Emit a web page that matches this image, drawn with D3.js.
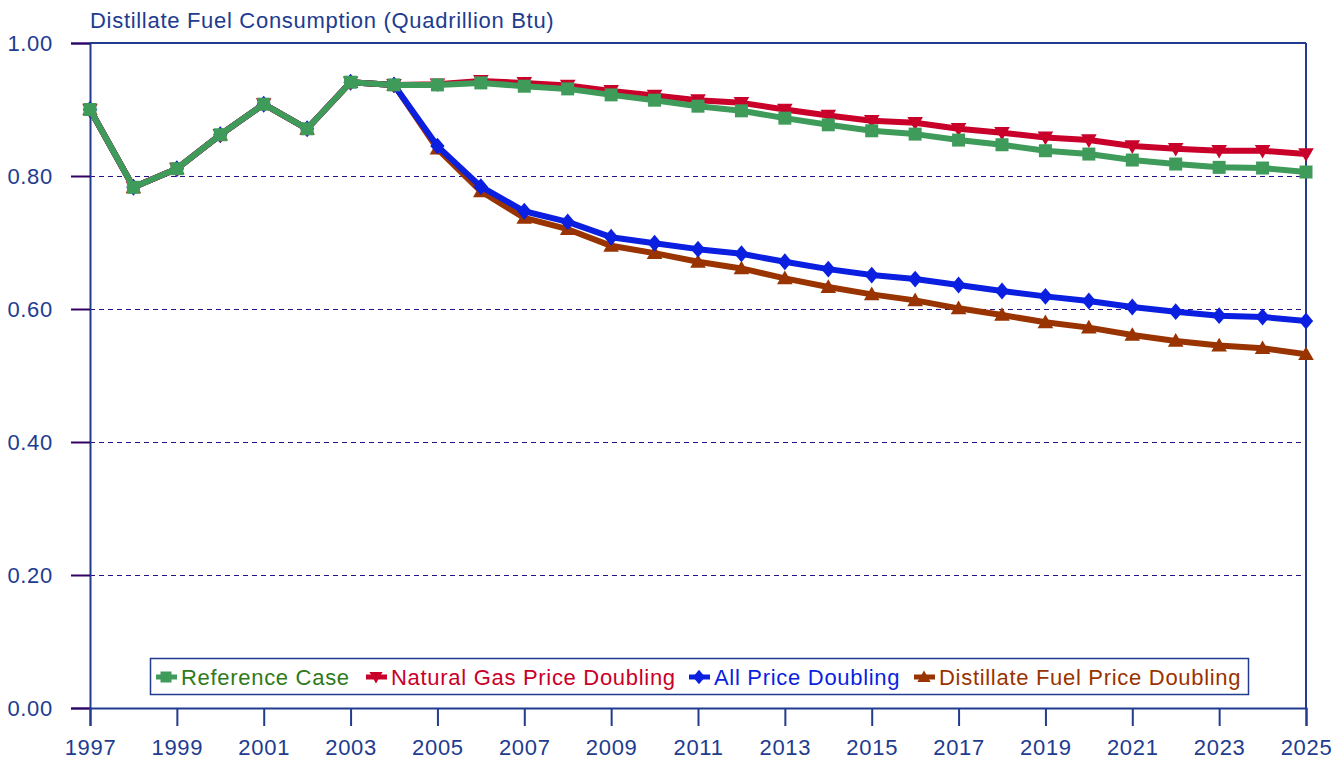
<!DOCTYPE html>
<html>
<head>
<meta charset="utf-8">
<script src="https://cdn.jsdelivr.net/npm/d3@7"></script>
<style>
	body { margin: 0; background: #fff; }
	text { font-family: "Liberation Sans", Arial, sans-serif; letter-spacing: 0.7px; }
</style>
</head>
<body>
<svg id="chart" width="1342" height="759"></svg>
<script>
var years = d3.range(1997, 2026);
var yTicks = [0, 0.2, 0.4, 0.6, 0.8, 1.0];
var xTicks = d3.range(1997, 2026, 2);

// 1997-2004 is shared by all cases
var pastValues = [0.900, 0.783, 0.811, 0.862, 0.908, 0.871, 0.941, 0.937];

var referenceCase = pastValues.concat([0.937, 0.940, 0.935, 0.931, 0.922, 0.914, 0.905, 0.898, 0.887, 0.877,
	0.868, 0.863, 0.854, 0.847, 0.838, 0.833, 0.824, 0.818, 0.813, 0.812, 0.806]);
var gasDoubling = pastValues.concat([0.938, 0.943, 0.940, 0.936, 0.928, 0.921, 0.914, 0.910, 0.900, 0.891,
	0.883, 0.880, 0.871, 0.865, 0.858, 0.854, 0.845, 0.841, 0.838, 0.838, 0.833]);
var allDoubling = pastValues.concat([0.845, 0.784, 0.747, 0.731, 0.708, 0.699, 0.690, 0.683, 0.671, 0.660,
	0.651, 0.645, 0.636, 0.627, 0.619, 0.612, 0.603, 0.596, 0.590, 0.588, 0.582]);
var distillateDoubling = pastValues.concat([0.841, 0.777, 0.737, 0.720, 0.695, 0.684, 0.671, 0.661, 0.646, 0.633,
	0.622, 0.613, 0.601, 0.591, 0.580, 0.572, 0.561, 0.552, 0.545, 0.541, 0.532]);

var seriesNames = ["Reference Case", "Natural Gas Price Doubling", "All Price Doubling", "Distillate Fuel Price Doubling"];

var navy = "#213b8f",
	grid = "#2a0f8a";

var series = [
	{name: seriesNames[3], values: distillateDoubling, color: "#993300", text: "#993300", symbol: "triUp"},
	{name: seriesNames[2], values: allDoubling, color: "#0a1fe0", text: "#0a1fe0", symbol: "diamond"},
	{name: seriesNames[1], values: gasDoubling, color: "#c8002a", text: "#c8002a", symbol: "triDown"},
	{name: seriesNames[0], values: referenceCase, color: "#3f9b5a", text: "#2f7a1a", symbol: "square"}
];

var svg = d3.select("#chart");
var plotL = 90, plotR = 1306, plotT = 43, plotB = 708;

var x = d3.scaleLinear().domain([1997, 2025]).range([plotL, plotR]);
var y = d3.scaleLinear().domain([0, 1]).range([plotB, plotT]);

// gridlines
svg.append("g").selectAll("line").data([0.2, 0.4, 0.6, 0.8]).enter().append("line")
	.attr("x1", plotL).attr("x2", plotR)
	.attr("y1", function(d) { return y(d) + 0.5; }).attr("y2", function(d) { return y(d) + 0.5; })
	.attr("stroke", grid).attr("stroke-width", 1).attr("stroke-dasharray", "5,4");

// frame top/right
svg.append("line").attr("x1", plotL).attr("x2", plotR).attr("y1", y(1)).attr("y2", y(1))
	.attr("stroke", navy).attr("stroke-width", 2);
svg.append("line").attr("x1", plotR).attr("x2", plotR).attr("y1", y(1)).attr("y2", y(0))
	.attr("stroke", navy).attr("stroke-width", 2);

// y axis
var yAxis = svg.append("g").attr("transform", "translate(" + plotL + ",0)")
	.call(d3.axisLeft(y).tickValues(yTicks).tickFormat(d3.format(".2f")).tickSize(19).tickPadding(18));
yAxis.select(".domain").attr("stroke", navy).attr("stroke-width", 2);
yAxis.selectAll(".tick line").attr("stroke", "#330066").attr("stroke-width", 2);
yAxis.selectAll("text").attr("fill", navy).style("font-size", "22px");

// x axis
var xAxis = svg.append("g").attr("transform", "translate(0," + plotB + ")")
	.call(d3.axisBottom(x).tickValues(xTicks).tickFormat(d3.format("d")).tickSize(18).tickPadding(13));
xAxis.select(".domain").attr("stroke", navy).attr("stroke-width", 2);
xAxis.selectAll(".tick line").attr("stroke", navy).attr("stroke-width", 2);
xAxis.selectAll("text").attr("fill", navy).style("font-size", "22px");

// title
svg.append("text").attr("x", plotL).attr("y", 28).attr("fill", navy)
	.style("font-size", "22px").text("Distillate Fuel Consumption (Quadrillion Btu)");

function symbolPath(kind, s) {
	if (kind == "square") return "M" + (-s) + "," + (-s) + "h" + (2*s) + "v" + (2*s) + "h" + (-2*s) + "Z";
	if (kind == "diamond") return "M0," + (-s*1.3) + "L" + (s*1.1) + ",0L0," + (s*1.3) + "L" + (-s*1.1) + ",0Z";
	if (kind == "triUp") return "M0," + (-s*1.2) + "L" + (s*1.2) + "," + (s*0.9) + "L" + (-s*1.2) + "," + (s*0.9) + "Z";
	return "M0," + (s*1.2) + "L" + (s*1.2) + "," + (-s*0.9) + "L" + (-s*1.2) + "," + (-s*0.9) + "Z";
}

var line = d3.line()
	.x(function(d, i) { return x(years[i]); })
	.y(function(d) { return y(d); });

var gSeries = svg.append("g").attr("class", "data");
series.forEach(function(s) {
	var g = gSeries.append("g");
	g.append("path").datum(s.values)
		.attr("d", line).attr("fill", "none")
		.attr("stroke", s.color).attr("stroke-width", 6).attr("stroke-linejoin", "round");
	g.selectAll("path.mark").data(s.values).enter().append("path")
		.attr("class", "mark")
		.attr("transform", function(d, i) { return "translate(" + x(years[i]) + "," + y(d) + ")"; })
		.attr("d", symbolPath(s.symbol, 6.5))
		.attr("fill", s.color);
});

// legend
var legend = svg.append("g");
legend.append("rect").attr("x", 150.5).attr("y", 658.5).attr("width", 1098).attr("height", 36)
	.attr("fill", "#fff").attr("stroke", navy).attr("stroke-width", 1.5);
var legendX = [156, 366, 689, 914];
series.slice().reverse().forEach(function(s, i) {
	var lx = legendX[i];
	var item = legend.append("g").attr("transform", "translate(" + lx + ",677)");
	item.append("line").attr("x1", 0).attr("x2", 21).attr("stroke", s.color).attr("stroke-width", 5);
	item.append("path").attr("transform", "translate(10,0)").attr("d", symbolPath(s.symbol, 5.5)).attr("fill", s.color);
	item.append("text").attr("x", 25).attr("y", 8).attr("fill", s.text)
		.style("font-size", "22px").text(s.name);
});
</script>
</body>
</html>
